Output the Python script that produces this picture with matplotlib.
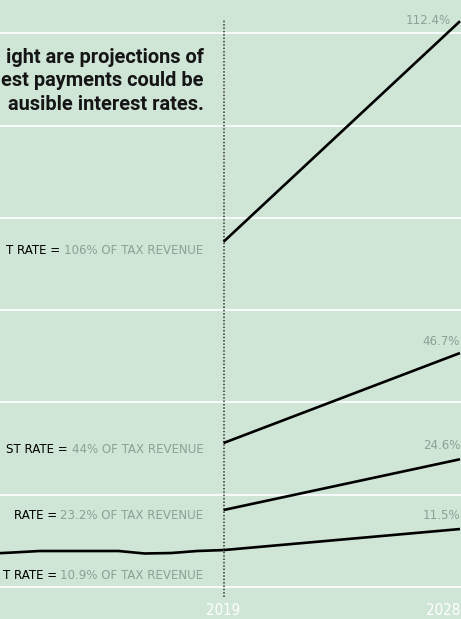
import numpy as np
import matplotlib
matplotlib.use("Agg")
import matplotlib.pyplot as plt
from matplotlib import font_manager as fm

# interest payments, $ trillions
hist_years = [2010, 2011, 2012, 2013, 2014, 2015, 2016, 2017, 2018, 2019]
hist_vals = [0.36, 0.374, 0.39, 0.39, 0.39, 0.39, 0.363, 0.368, 0.39, 0.40]

proj_years = [2019, 2028]
proj_vals = {
    "10.9": [0.40, 0.628],
    "23.2": [0.834, 1.384],
    "44": [1.56, 2.535],
    "106": [3.74, 6.13],
}
end_labels = ["11.5%", "24.6%", "46.7%", "112.4%"]
end_label_y = [0.77, 1.528, 2.665, 6.14]

left_black = ["T RATE = ", "RATE = ", "ST RATE = ", "T RATE = "]
left_gray = ["10.9% OF TAX REVENUE", "23.2% OF TAX REVENUE",
             "44% OF TAX REVENUE", "106% OF TAX REVENUE"]
left_y = [0.13, 0.77, 1.495, 3.65]

note_lines = ["ight are projections of", "est payments could be",
              "ausible interest rates."]
note_y = [5.74, 5.49, 5.23]

year_ticks = ["2019", "2028"]

bg = "#cfe5d6"
gray = "#89a394"

# look for a narrow face, otherwise Roboto
cond_file = None
for pref in ("LiberationSansNarrow-Regular", "DejaVuSansCondensed.ttf"):
    for f in fm.fontManager.ttflist:
        if pref in f.fname:
            cond_file = f.fname
            break
    if cond_file:
        break
if cond_file:
    cond = fm.FontProperties(fname=cond_file)
else:
    cond = fm.FontProperties(family="Roboto")

fig = plt.figure(figsize=(4.61, 6.19), dpi=100, facecolor=bg)
ax = fig.add_axes([0, 0, 1, 1])
ax.set_facecolor(bg)
ax.set_xlim(2019 - 224 / 26.33, 2028 + 1 / 26.33)
ax.set_ylim(-32 / 92.3, 587 / 92.3)
ax.axis("off")

for g in range(7):
    ax.axhline(g, color="white", lw=1.2, zorder=1)

ax.plot([2019, 2019], [-0.108, 6.14], color="#333333", lw=1.1,
        linestyle=(0, (1, 1.2)), zorder=2)

ax.plot(hist_years, hist_vals, color="black", lw=1.9, zorder=3,
        solid_capstyle="butt")
for k, v in proj_vals.items():
    ax.plot(proj_years, v, color="black", lw=1.9, zorder=3,
            solid_capstyle="butt")

x_right_txt = 2019 - 20 / 26.33
gray_txt = []
black_txt = []
for blk, grt, y in zip(left_black, left_gray, left_y):
    t = ax.text(x_right_txt, y, grt, color=gray, fontproperties=cond,
                fontsize=12, ha="right", va="center")
    b = ax.annotate(blk, xy=(0, 0.5), xycoords=t, color="black",
                    fontproperties=cond, fontsize=12, ha="right", va="center")
    gray_txt.append(t)
    black_txt.append(b)

right_txt = []
for lab, y in zip(end_labels, end_label_y):
    x = 2028 - 9 / 26.33 if lab == "112.4%" else 2028.0
    right_txt.append(ax.text(x, y, lab, color=gray, fontproperties=cond,
                             fontsize=12, ha="right", va="center"))

yr = [ax.text(2019, -0.25, year_ticks[0], color="white", fontproperties=cond,
              fontsize=12, ha="center", va="center"),
      ax.text(2028.02, -0.25, year_ticks[1], color="white",
              fontproperties=cond, fontsize=12, ha="right", va="center")]

notes = []
for line, y in zip(note_lines, note_y):
    notes.append(ax.text(x_right_txt, y, line, color="#151515", fontsize=13,
                         family=["Roboto", "DejaVu Sans"], fontweight="bold",
                         ha="right", va="center"))

# size the text so the widest label just fits, as in the picture
fig.canvas.draw()
r = fig.canvas.get_renderer()
widest = max(g.get_window_extent(r).width + b.get_window_extent(r).width
             for g, b in zip(gray_txt, black_txt))
fs = 12 * 201 / widest
for t in gray_txt + black_txt + right_txt:
    t.set_fontsize(fs)
w = yr[1].get_window_extent(r).width
for t in yr:
    t.set_fontsize(12 * 34 / w)
w = notes[0].get_window_extent(r).width
for t in notes:
    t.set_fontsize(13 * 198 / w)

fig.savefig("out.png", dpi=100, facecolor=bg)
